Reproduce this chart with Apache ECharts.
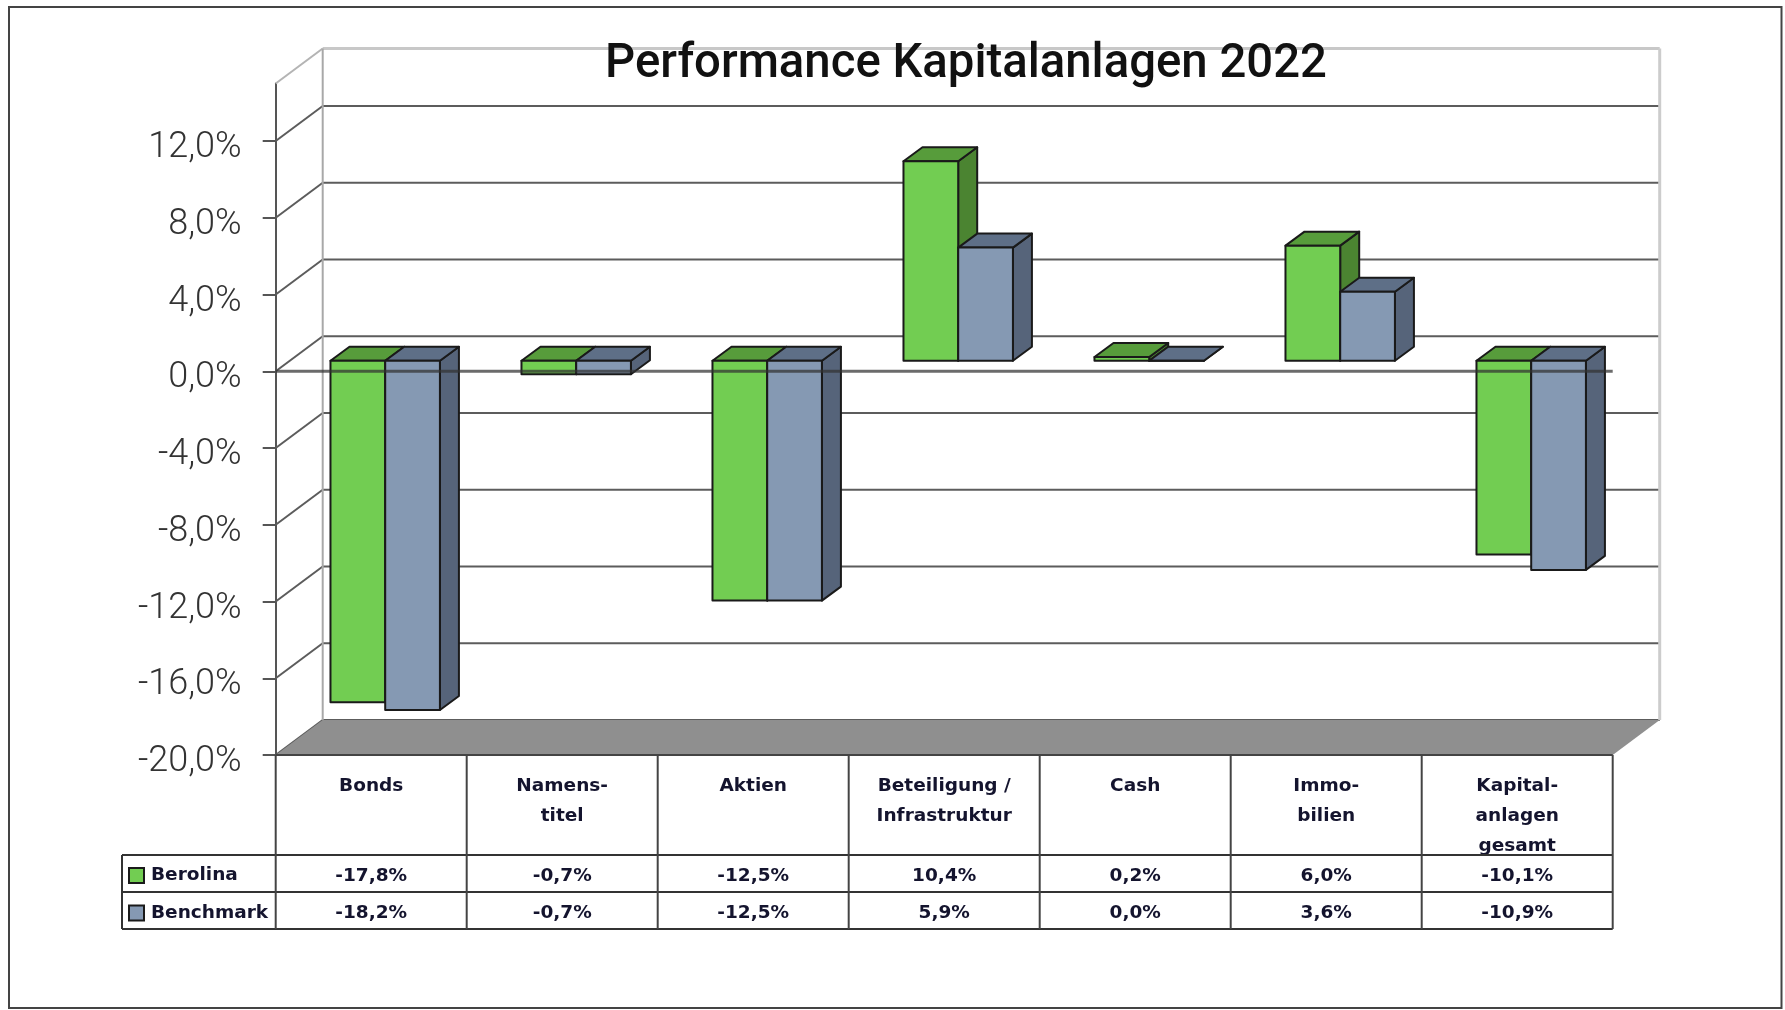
<!DOCTYPE html>
<html>
<head>
<meta charset="utf-8">
<title>Performance Kapitalanlagen 2022</title>
<style>
  html, body { margin: 0; padding: 0; background: #fff; }
  #chart { width: 1785px; height: 1010px; }
</style>
<script src="https://cdn.jsdelivr.net/npm/echarts@6/dist/echarts.min.js"></script>
</head>
<body>
<div id="chart"></div>
<script>
const categories = ['Bonds', 'Namens-\ntitel', 'Aktien', 'Beteiligung /\nInfrastruktur', 'Cash', 'Immo-\nbilien', 'Kapital-\nanlagen\ngesamt']
const berolina = [-17.8, -0.7, -12.5, 10.4, 0.2, 6.0, -10.1]
const benchmark = [-18.2, -0.7, -12.5, 5.9, 0.0, 3.6, -10.9]
const yTicks = [-20, -16, -12, -8, -4, 0, 4, 8, 12]
const yMin = -20
const yMax = 15

const chart = echarts.init(document.getElementById('chart'))

// depth of the chart box and of the bars, in pixels
const WALL_DX = 47
const WALL_DY = 35
const BAR_OFF_X = 14
const BAR_OFF_Y = 10.5
const BAR_DX = 19
const BAR_DY = 14
const OUTLINE = '#1a1a1a'
const TEXT_FONT = { fontFamily: 'DejaVu Sans', fontWeight: 'bold', fontSize: 18.5 }
const TEXT_COLOR = '#14142e'
const ROW_Y = [855, 892, 929]
const LEGEND_X = 122

function line(x1, y1, x2, y2, stroke, lineWidth) {
  return { type: 'line', shape: { x1, y1, x2, y2 }, style: { stroke, lineWidth } }
}

function poly(points, fill) {
  return { type: 'polygon', shape: { points }, style: { fill, stroke: OUTLINE, lineWidth: 2, lineJoin: 'round' } }
}

function fmt(v) {
  return v.toFixed(1).replace('.', ',') + '%'
}

function renderWallLine(params, api) {
  const tick = api.value(0)
  const sys = params.coordSys
  const y = api.coord([0, tick])[1]
  return {
    type: 'group',
    children: [
      line(sys.x, y, sys.x + WALL_DX, y - WALL_DY, '#5c5c5c', 2),
      line(sys.x + WALL_DX, y - WALL_DY, sys.x + sys.width + WALL_DX, y - WALL_DY, '#5c5c5c', 2)
    ]
  }
}

function renderBox(params, api) {
  const sys = params.coordSys
  const top = api.coord([0, yMax])[1]
  const bottom = api.coord([0, yMin])[1]
  const left = sys.x
  const right = sys.x + sys.width
  return {
    type: 'group',
    children: [
      line(left, top, left + WALL_DX, top - WALL_DY, '#b4b4b4', 2),
      line(left + WALL_DX, top - WALL_DY, right + WALL_DX, top - WALL_DY, '#c8c8c8', 3),
      line(left + WALL_DX, top - WALL_DY, left + WALL_DX, bottom - WALL_DY, '#a8a8a8', 2),
      line(right + WALL_DX, top - WALL_DY, right + WALL_DX, bottom - WALL_DY, '#cccccc', 3),
      {
        type: 'polygon',
        shape: {
          points: [
            [left, bottom],
            [left + WALL_DX, bottom - WALL_DY],
            [right + WALL_DX, bottom - WALL_DY],
            [right, bottom]
          ]
        },
        style: { fill: '#8f8f8f' }
      }
    ]
  }
}

function barRenderer(colors, slot, rowIndex) {
  return function (params, api) {
    const i = api.value(0)
    const v = api.value(1)
    const center = api.coord([i, 0])[0] + BAR_OFF_X
    const w = api.size([1, 0])[0] * 0.2865
    const x0 = center + (slot - 1) * w
    const x1 = x0 + w
    const yVal = api.coord([i, v])[1] - BAR_OFF_Y
    const yZero = api.coord([i, 0])[1] - BAR_OFF_Y
    const yTop = Math.min(yVal, yZero)
    const yBottom = Math.max(yVal, yZero)
    const children = [
      poly([[x1, yTop], [x1 + BAR_DX, yTop - BAR_DY], [x1 + BAR_DX, yBottom - BAR_DY], [x1, yBottom]], colors.side),
      poly([[x0, yTop], [x0 + BAR_DX, yTop - BAR_DY], [x1 + BAR_DX, yTop - BAR_DY], [x1, yTop]], colors.top),
      poly([[x0, yTop], [x1, yTop], [x1, yBottom], [x0, yBottom]], colors.front),
      {
        type: 'text',
        x: api.coord([i, 0])[0],
        y: (ROW_Y[rowIndex] + ROW_Y[rowIndex + 1]) / 2 + 3,
        z2: 20,
        style: Object.assign({ text: fmt(v), align: 'center', verticalAlign: 'middle', fill: TEXT_COLOR }, TEXT_FONT)
      }
    ]
    return { type: 'group', children }
  }
}

function renderZeroLine(params, api) {
  const sys = params.coordSys
  const y = api.coord([0, 0])[1]
  return line(sys.x, y, sys.x + sys.width, y, 'rgba(50,50,50,0.72)', 3)
}

function renderTable(params, api) {
  const sys = params.coordSys
  const bottom = api.coord([0, yMin])[1]
  const right = sys.x + sys.width
  const children = [line(sys.x, bottom, right, bottom, '#444', 2)]
  ROW_Y.forEach(y => children.push(line(LEGEND_X, y, right, y, '#333', 2)))
  children.push(line(LEGEND_X, ROW_Y[0], LEGEND_X, ROW_Y[2], '#333', 2))
  categories.forEach((_, i) => {
    const x = sys.x + (i * sys.width) / categories.length
    children.push(line(x, bottom, x, ROW_Y[2], '#444', 2))
  })
  children.push(line(right, bottom, right, ROW_Y[2], '#444', 2))
  return { type: 'group', children }
}

const option = {
  animation: false,
  backgroundColor: '#fff',
  title: {
    text: 'Performance Kapitalanlagen 2022',
    left: 961,
    top: 37,
    textAlign: 'center',
    textStyle: { fontFamily: 'Roboto', fontWeight: 500, fontSize: 47.3, color: '#111' }
  },
  legend: {
    orient: 'vertical',
    left: 123,
    top: 861,
    itemWidth: 15,
    itemHeight: 15,
    itemGap: 18.5,
    icon: 'rect',
    selectedMode: false,
    data: ['Berolina', 'Benchmark'],
    itemStyle: { borderColor: OUTLINE, borderWidth: 2 },
    textStyle: Object.assign({ color: TEXT_COLOR, padding: [0, 0, 0, 2] }, TEXT_FONT)
  },
  grid: { left: 275.7, top: 83.5, width: 1337, height: 671.5 },
  xAxis: {
    type: 'category',
    data: categories,
    axisLine: { show: false, onZero: false },
    axisTick: { show: false },
    axisLabel: Object.assign({ interval: 0, margin: 16, lineHeight: 30, color: TEXT_COLOR }, TEXT_FONT)
  },
  yAxis: {
    type: 'value',
    min: yMin,
    max: yMax,
    interval: 4,
    axisLine: { show: true, lineStyle: { color: '#555', width: 2 } },
    axisTick: { show: true, length: 13, customValues: yTicks, lineStyle: { color: '#555', width: 2 } },
    axisLabel: {
      customValues: yTicks,
      margin: 34,
      verticalAlign: 'top',
      lineHeight: 14,
      fontFamily: 'Roboto',
      fontWeight: 300,
      fontSize: 36,
      color: '#333',
      formatter: v => fmt(v)
    },
    splitLine: { show: false }
  },
  series: [
    {
      type: 'custom',
      name: 'walls',
      z: 1,
      data: yTicks.map(t => [t]),
      encode: { y: 0 },
      renderItem: renderWallLine
    },
    {
      type: 'custom',
      name: 'box',
      z: 1,
      data: [[0]],
      renderItem: renderBox
    },
    {
      type: 'custom',
      name: 'Berolina',
      z: 3,
      itemStyle: { color: '#72cd52' },
      data: berolina.map((v, i) => [i, v]),
      encode: { x: 0, y: 1 },
      renderItem: barRenderer({ front: '#72cd52', top: '#579c3b', side: '#4b8431' }, 0, 0)
    },
    {
      type: 'custom',
      name: 'Benchmark',
      z: 4,
      itemStyle: { color: '#8599b3' },
      data: benchmark.map((v, i) => [i, v]),
      encode: { x: 0, y: 1 },
      renderItem: barRenderer({ front: '#8599b3', top: '#5e6f87', side: '#56647a' }, 1, 1)
    },
    {
      type: 'custom',
      name: 'zero',
      z: 5,
      data: [[0]],
      renderItem: renderZeroLine
    },
    {
      type: 'custom',
      name: 'table',
      z: 2,
      data: [[0]],
      renderItem: renderTable
    }
  ],
  graphic: [
    {
      type: 'rect',
      shape: { x: 9, y: 7, width: 1772.5, height: 1001 },
      style: { fill: 'none', stroke: '#444', lineWidth: 2 },
      silent: true
    }
  ]
}

chart.setOption(option)
</script>
</body>
</html>
